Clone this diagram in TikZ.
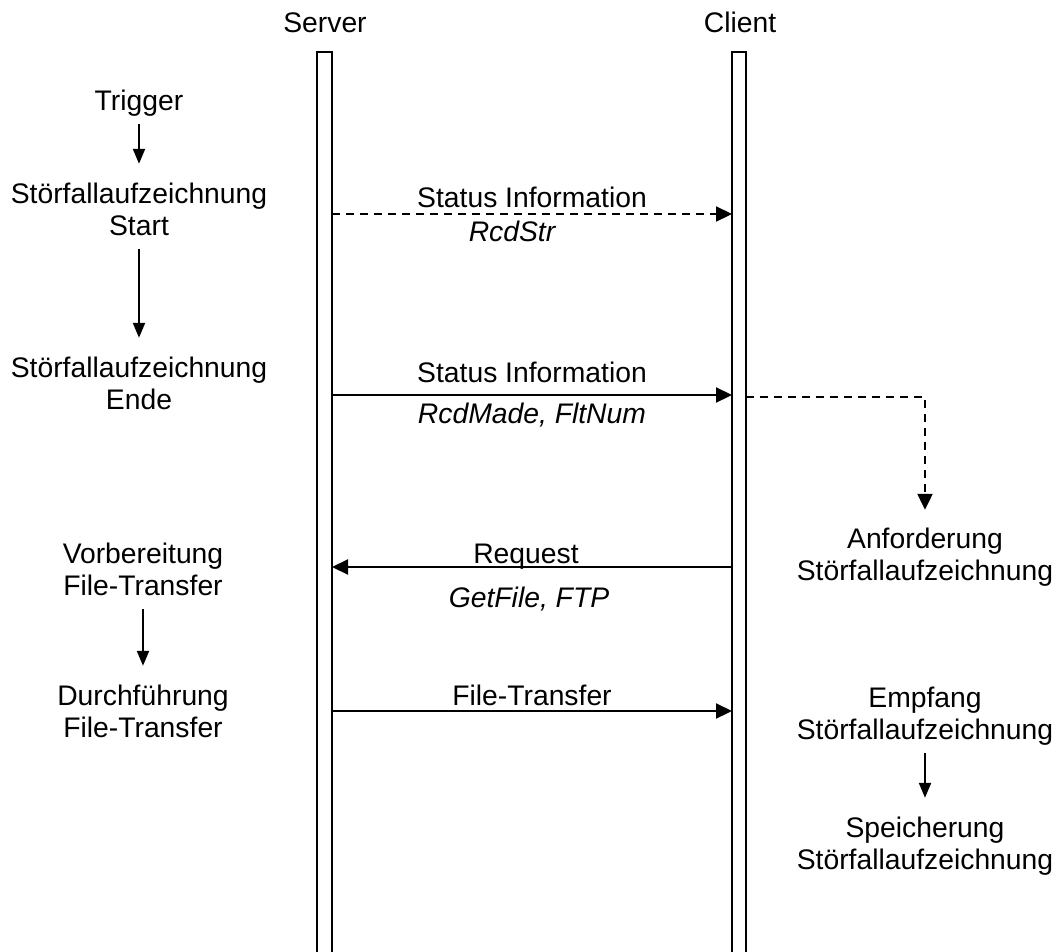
\documentclass[tikz,border=0pt]{standalone}
\usepackage{fontspec}
\setmainfont{Liberation Sans}
\usetikzlibrary{arrows.meta}
\begin{document}
\begin{tikzpicture}[x=1pt,y=-1pt,
  lbl/.style={font=\fontsize{28.3}{32}\selectfont, inner sep=0pt, anchor=base,
              text height=21pt, text depth=6pt},
  ilbl/.style={lbl, font=\fontsize{28.3}{32}\selectfont\itshape},
  lifebox/.style={draw, line width=1.6pt, minimum width=15pt, minimum height=950pt,
                  inner sep=0pt, outer sep=0pt},
  msg/.style={line width=2.2pt, -{Triangle[length=16pt,width=15pt]}},
  flow/.style={line width=2.2pt, -{Triangle[length=15pt,width=12pt]},
               shorten <=8pt, shorten >=18pt},
  dsh/.style={dash pattern=on 8pt off 6pt}]
\useasboundingbox (0,0) rectangle (1058,951);
\clip (0,0) rectangle (1058,951);

% lifelines (they run on past the lower edge)
\node[lifebox] (srvbox) at (324.5,527) {};
\node[lifebox, minimum width=14pt] (clibox) at (739,527) {};
\node[lbl] (srv) at (325,32) {Server};
\node[lbl] (cli) at (740,32) {Client};

% heights of the messages
\coordinate (m1) at (0,214);
\coordinate (m2) at (0,395);
\coordinate (m3) at (0,567);
\coordinate (m4) at (0,711);
\coordinate (m5) at (0,397);

% server side events
\node[lbl] (trig) at (139,110) {Trigger};
\node[lbl] (start1) at (139,203) {Störfallaufzeichnung};
\node[lbl] (start2) at (139,235) {Start};
\node[lbl] (ende1) at (139,377) {Störfallaufzeichnung};
\node[lbl] (ende2) at (139,409) {Ende};
\node[lbl] (vor1) at (143,563) {Vorbereitung};
\node[lbl] (vor2) at (143,595) {File-Transfer};
\node[lbl] (dur1) at (143,705) {Durchführung};
\node[lbl] (dur2) at (143,737) {File-Transfer};

\draw[flow] (trig.south) -- (start1.north);
\draw[flow] (start2.south) -- (ende1.north);
\draw[flow] (vor2.south) -- (dur1.north);

% client side events
\node[lbl] (anf1) at (925,548) {Anforderung};
\node[lbl] (anf2) at (925,580) {Störfallaufzeichnung};
\node[lbl] (emp1) at (925,707) {Empfang};
\node[lbl] (emp2) at (925,739) {Störfallaufzeichnung};
\node[lbl] (spe1) at (925,837) {Speicherung};
\node[lbl] (spe2) at (925,869) {Störfallaufzeichnung};

\draw[flow] (emp2.south) -- (spe1.north);

% messages
\node[lbl] (si1) at (532,207) {Status Information};
\node[ilbl] (rs) at (512,241) {RcdStr};
\draw[msg, dsh] (srvbox.east |- m1) -- (clibox.west |- m1);

\node[lbl] (si2) at (532,382) {Status Information};
\node[ilbl] (rm) at (532,423) {RcdMade, FltNum};
\draw[msg] (srvbox.east |- m2) -- (clibox.west |- m2);

\node[lbl] (rq) at (526,563) {Request};
\node[ilbl] (gf) at (529,607) {GetFile, FTP};
\draw[msg] (clibox.west |- m3) -- (srvbox.east |- m3);

\node[lbl] (ft) at (532,705) {File-Transfer};
\draw[msg] (srvbox.east |- m4) -- (clibox.west |- m4);

% client reacts to the finished recording
\draw[msg, dsh, shorten >=17pt] (clibox.east |- m5) -| (anf1.north);
\end{tikzpicture}
\end{document}
